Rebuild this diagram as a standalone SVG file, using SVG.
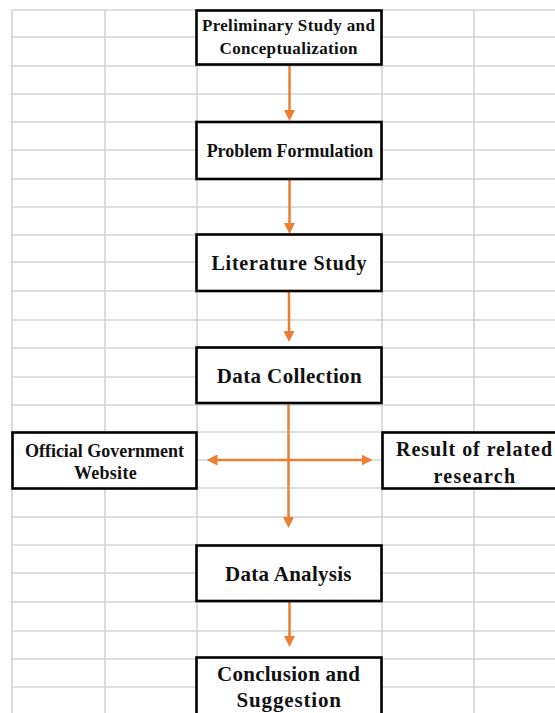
<svg xmlns="http://www.w3.org/2000/svg" width="555" height="713" viewBox="0 0 555 713">
<style>
.grid line{stroke:#d4d4d4;stroke-width:1.6}
.box{fill:#fff;stroke:#000;stroke-width:2.6}
.t{font-family:"Liberation Serif","Times New Roman",serif;font-weight:bold;fill:#111;text-anchor:middle}
.conn line{stroke:#ED7D31;stroke-width:2.5;fill:none}
</style>
<defs>
<marker id="ah" markerUnits="userSpaceOnUse" markerWidth="11" markerHeight="11" refX="3" refY="5.5" orient="auto-start-reverse">
<path d="M0,0 L11,5.5 L0,11 z" fill="#ED7D31"/>
</marker>
</defs>
<rect width="555" height="713" fill="#fff"/>
<g class="grid">
<line x1="12" y1="10" x2="12" y2="713"/>
<line x1="105" y1="10" x2="105" y2="713"/>
<line x1="197" y1="10" x2="197" y2="713"/>
<line x1="382" y1="10" x2="382" y2="713"/>
<line x1="474" y1="10" x2="474" y2="713"/>
<line x1="12" y1="10" x2="555" y2="10"/>
<line x1="12" y1="37" x2="555" y2="37"/>
<line x1="12" y1="66" x2="555" y2="66"/>
<line x1="12" y1="94" x2="555" y2="94"/>
<line x1="12" y1="122" x2="555" y2="122"/>
<line x1="12" y1="150" x2="555" y2="150"/>
<line x1="12" y1="179" x2="555" y2="179"/>
<line x1="12" y1="207" x2="555" y2="207"/>
<line x1="12" y1="235" x2="555" y2="235"/>
<line x1="12" y1="262" x2="555" y2="262"/>
<line x1="12" y1="291" x2="555" y2="291"/>
<line x1="12" y1="320" x2="555" y2="320"/>
<line x1="12" y1="348" x2="555" y2="348"/>
<line x1="12" y1="377" x2="555" y2="377"/>
<line x1="12" y1="405" x2="555" y2="405"/>
<line x1="12" y1="432" x2="555" y2="432"/>
<line x1="12" y1="460" x2="555" y2="460"/>
<line x1="12" y1="488" x2="555" y2="488"/>
<line x1="12" y1="517" x2="555" y2="517"/>
<line x1="12" y1="545" x2="555" y2="545"/>
<line x1="12" y1="573" x2="555" y2="573"/>
<line x1="12" y1="602" x2="555" y2="602"/>
<line x1="12" y1="631" x2="555" y2="631"/>
<line x1="12" y1="659" x2="555" y2="659"/>
<line x1="12" y1="687" x2="555" y2="687"/>
</g>
<g class="conn">
<line x1="289.5" y1="65" x2="289.5" y2="113" marker-end="url(#ah)"/>
<line x1="289.5" y1="179" x2="289.5" y2="226" marker-end="url(#ah)"/>
<line x1="289" y1="291" x2="289" y2="334" marker-end="url(#ah)"/>
<line x1="288.5" y1="403" x2="288.5" y2="520" marker-end="url(#ah)"/>
<line x1="214.5" y1="460" x2="364.5" y2="460" marker-start="url(#ah)" marker-end="url(#ah)"/>
<line x1="289.5" y1="601" x2="289.5" y2="639" marker-end="url(#ah)"/>
</g>
<g id="n-preliminary">
<rect class="box" x="196.5" y="10.5" width="185" height="54"/>
<text class="t" x="288.4" y="31" font-size="17" textLength="173">Preliminary Study and</text>
<text class="t" x="288.5" y="54" font-size="17" textLength="138">Conceptualization</text>
</g>
<g id="n-problem">
<rect class="box" x="196.5" y="122" width="185" height="57"/>
<text class="t" x="290" y="156.7" font-size="18" textLength="166.7">Problem Formulation</text>
</g>
<g id="n-literature">
<rect class="box" x="196.5" y="234.5" width="185" height="56.5"/>
<text class="t" x="289" y="270" font-size="20" textLength="155">Literature Study</text>
</g>
<g id="n-collection">
<rect class="box" x="196.5" y="347.5" width="185" height="55.5"/>
<text class="t" x="289.2" y="382.7" font-size="21" textLength="145">Data Collection</text>
</g>
<g id="n-government">
<rect class="box" x="12.5" y="432.5" width="184" height="56"/>
<text class="t" x="104.5" y="456.5" font-size="18" textLength="159">Official Government</text>
<text class="t" x="105.3" y="478.5" font-size="18" textLength="62.7">Website</text>
</g>
<g id="n-research">
<rect class="box" x="382.5" y="432.5" width="180" height="56"/>
<text class="t" x="474" y="456" font-size="20" textLength="156">Result of related</text>
<text class="t" x="474.3" y="482.7" font-size="20" textLength="81.4">research</text>
</g>
<g id="n-analysis">
<rect class="box" x="196.5" y="545.5" width="185" height="55.5"/>
<text class="t" x="288.3" y="581" font-size="21" textLength="126.5">Data Analysis</text>
</g>
<g id="n-conclusion">
<rect class="box" x="196.5" y="657.5" width="185" height="70"/>
<text class="t" x="288.5" y="681" font-size="21" textLength="143">Conclusion and</text>
<text class="t" x="288.8" y="706.7" font-size="21" textLength="104.5">Suggestion</text>
</g>
</svg>
